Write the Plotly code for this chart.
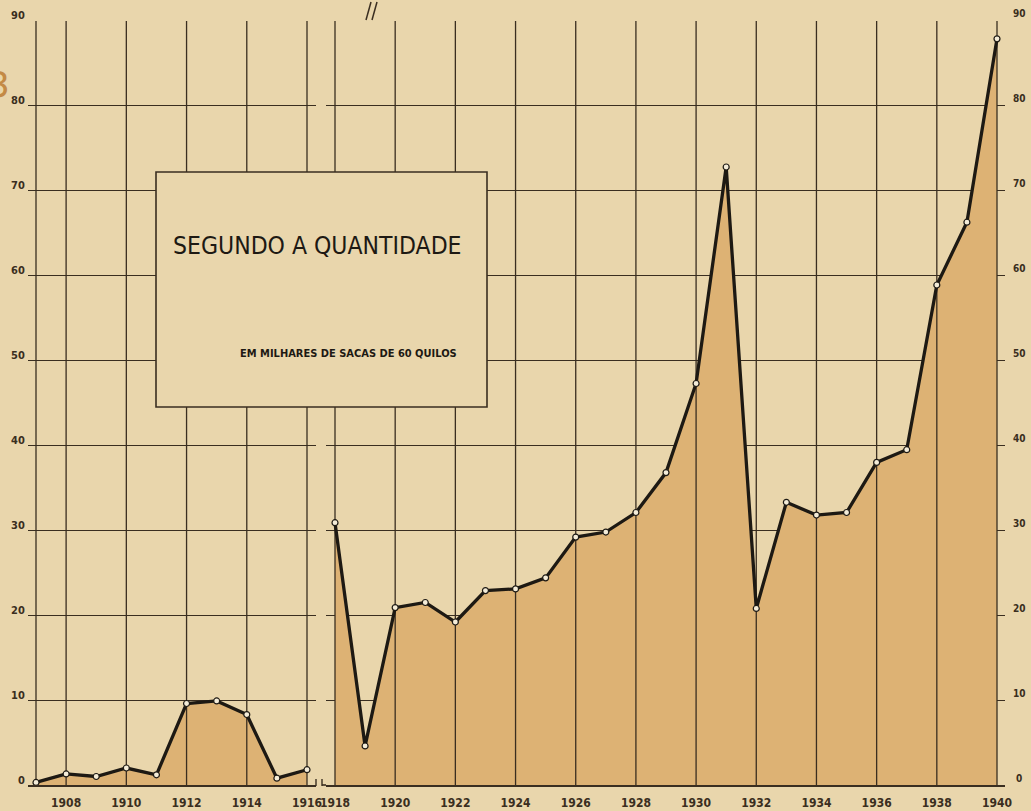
import plotly.graph_objects as go

# Coffee quantity, thousands of 60 kg sacks
years_a = [1907, 1908, 1909, 1910, 1911, 1912, 1913, 1914, 1915, 1916]
qty_a = [0.3, 1.3, 1.0, 2.0, 1.2, 9.6, 9.9, 8.3, 0.8, 1.8]

years_b = list(range(1918, 1941))
qty_b = [30.9, 4.6, 20.9, 21.5, 19.2, 22.9, 23.1, 24.4, 29.2, 29.8, 32.1, 36.8,
         47.3, 72.8, 20.8, 33.3, 31.8, 32.1, 38.0, 39.5, 58.9, 66.3, 87.9]

grid_years_a = [1907, 1908, 1910, 1912, 1914, 1916]
grid_years_b = list(range(1918, 1941, 2))
tick_years_a = [1908, 1910, 1912, 1914, 1916]
tick_years_b = list(range(1918, 1941, 2))
y_ticks = list(range(0, 91, 10))

title_text = "SEGUNDO A QUANTIDADE"
unit_text = "EM MILHARES DE SACAS DE 60 QUILOS"

W, H = 1031, 811
BG = "#E9D6AC"
INK = "#3a2e20"
LINE = "#1d1913"
FILL = "#DDB274"
COND = "DejaVu Sans Condensed"


def px(p):
    return p / W


def py(p):
    return 1 - p / H


def grid_trace(grid_years, xa, ya):
    xs, ys = [], []
    for g in grid_years:
        xs += [g, g, None]
        ys += [0, 90, None]
    return go.Scatter(x=xs, y=ys, mode="lines", xaxis=xa, yaxis=ya,
                      line=dict(color=INK, width=1.3), hoverinfo="skip",
                      showlegend=False)


fig = go.Figure()
for yrs, vals, grid, xa, ya in [(years_a, qty_a, grid_years_a, "x", "y"),
                                (years_b, qty_b, grid_years_b, "x2", "y2")]:
    fig.add_trace(go.Scatter(x=yrs, y=vals, mode="none", fill="tozeroy",
                             fillcolor=FILL, xaxis=xa, yaxis=ya,
                             hoverinfo="skip", showlegend=False))
    fig.add_trace(grid_trace(grid, xa, ya))
    fig.add_trace(go.Scatter(x=yrs, y=vals, mode="lines+markers", xaxis=xa, yaxis=ya,
                             line=dict(color=LINE, width=3.3),
                             marker=dict(size=6, color="#f4ecd8",
                                         line=dict(color=LINE, width=1.2)),
                             showlegend=False))

xfont = dict(family=COND, size=12, color=INK, weight="bold")
common_x = dict(showgrid=False, zeroline=False, showline=True, linecolor=INK,
                linewidth=1.6, ticks="", tickfont=xfont, layer="above traces",
                automargin=False, ticklabelstandoff=6)
common_y = dict(range=[0, 90], dtick=10, showgrid=True, gridcolor=INK,
                gridwidth=1.3, zeroline=False, showticklabels=False,
                automargin=False, domain=[py(785), py(21)])

fig.update_layout(
    width=W, height=H,
    margin=dict(l=0, r=0, t=0, b=0, autoexpand=False),
    paper_bgcolor=BG, plot_bgcolor="rgba(0,0,0,0)",
    xaxis=dict(domain=[px(28), px(316)],
               range=[1907 - 8 / 30.11, 1916 + 9 / 30.11],
               tickvals=tick_years_a, ticktext=[str(t) for t in tick_years_a],
               anchor="y", **common_x),
    xaxis2=dict(domain=[px(326), px(1005)],
                range=[1918 - 9 / 30.09, 1940 + 8 / 30.09],
                tickvals=tick_years_b, ticktext=[str(t) for t in tick_years_b],
                anchor="y2", **common_x),
    yaxis=dict(anchor="x", **common_y),
    yaxis2=dict(anchor="x2", matches="y", **common_y),
)

annotations = []
lab_font = dict(family=COND, size=11, color=INK, weight="bold")
for v in y_ticks:
    annotations.append(dict(x=px(25), y=v, xref="paper", yref="y", text=str(v),
                            showarrow=False, xanchor="right", yanchor="middle",
                            xshift=2, yshift=5, font=lab_font))
    annotations.append(dict(x=px(1019), y=v, xref="paper", yref="y2", text=str(v),
                            showarrow=False, xanchor="center", yanchor="middle",
                            yshift=7, font=dict(lab_font, size=10)))

annotations.append(dict(x=px(317), y=py(245), xref="paper", yref="paper",
                        text=title_text, showarrow=False,
                        xanchor="center", yanchor="middle",
                        font=dict(family=COND, size=24.5, color=LINE)))
annotations.append(dict(x=px(459), y=py(353), xref="paper", yref="paper",
                        text=unit_text, showarrow=False,
                        xanchor="right", yanchor="middle",
                        font=dict(family=COND, size=11, color=LINE, weight="bold")))
annotations.append(dict(x=px(12), y=py(84), xref="paper", yref="paper", text="3",
                        showarrow=False, xanchor="right", yanchor="middle",
                        font=dict(family="DejaVu Sans", size=36, color="#c48a45")))
fig.update_layout(annotations=annotations)

shapes = [
    # caption panel
    dict(type="rect", xref="paper", yref="paper", x0=px(156), x1=px(487),
         y0=py(407), y1=py(172), fillcolor=BG, line=dict(color=INK, width=1.6),
         layer="above"),
    # break marks on the top and bottom edges
    dict(type="line", xref="paper", yref="paper", x0=px(366), y0=py(20),
         x1=px(371), y1=py(2), line=dict(color=INK, width=1.5)),
    dict(type="line", xref="paper", yref="paper", x0=px(372), y0=py(20),
         x1=px(377), y1=py(2), line=dict(color=INK, width=1.5)),
    dict(type="line", xref="paper", yref="paper", x0=px(316), y0=py(786),
         x1=px(316), y1=py(779), line=dict(color=INK, width=1.4)),
    dict(type="line", xref="paper", yref="paper", x0=px(322), y0=py(786),
         x1=px(322), y1=py(779), line=dict(color=INK, width=1.4)),
    dict(type="line", xref="paper", yref="paper", x0=px(322), y0=py(785),
         x1=px(326), y1=py(785), line=dict(color=INK, width=1.6)),
]
fig.update_layout(shapes=shapes)

fig.write_html("out.html")
